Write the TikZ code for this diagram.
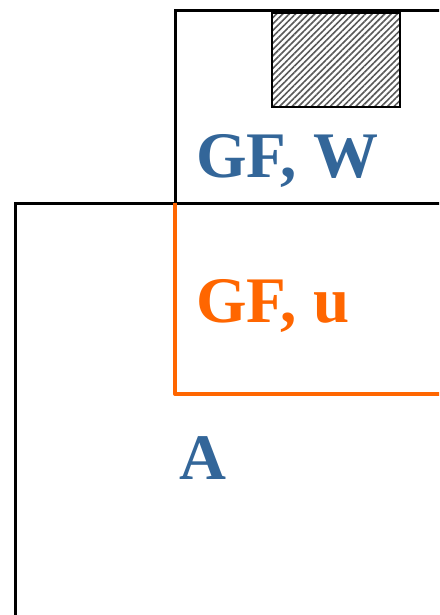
\documentclass[tikz,border=0pt]{standalone}
\usepackage{fontspec}
\setmainfont{Liberation Serif}
\usetikzlibrary{patterns.meta}
\definecolor{lblue}{HTML}{336699}
\definecolor{lorange}{HTML}{FF6600}
\tikzset{
  frame/.style={draw=black, line width=3pt},
  oframe/.style={draw=lorange, line width=4pt, line join=round},
  lbl/.style={anchor=base west, inner sep=0pt, font=\bfseries\fontsize{65}{72}\selectfont}
}
\begin{document}
\begin{tikzpicture}[x=1pt,y=-1pt]
\useasboundingbox (0,0) rectangle (439,615);
\clip (0,0) rectangle (439,615);
% top box
\draw[frame] (175,210) -- (175,11) -- (460,11);
% hatched block
\node[draw=black, line width=1.5pt, pattern={Lines[angle=45,distance=4.5pt,line width=1.6pt]}, pattern color=black!65,
  minimum width=128pt, minimum height=94pt, inner sep=0pt, anchor=north west] (hatch) at (271,12) {};
% big box
\draw[frame] (15,640) -- (15,203) -- (460,203);
% orange box
\draw[oframe] (175,203) -- (175,394) -- (460,394);
% labels
\node[lbl, text=lblue] (gfw) at (196,177) {GF, W};
\node[lbl, text=lorange] (gfu) at (196,322) {GF, u};
\node[lbl, text=lblue] (a) at (179,479) {A};
\end{tikzpicture}
\end{document}
